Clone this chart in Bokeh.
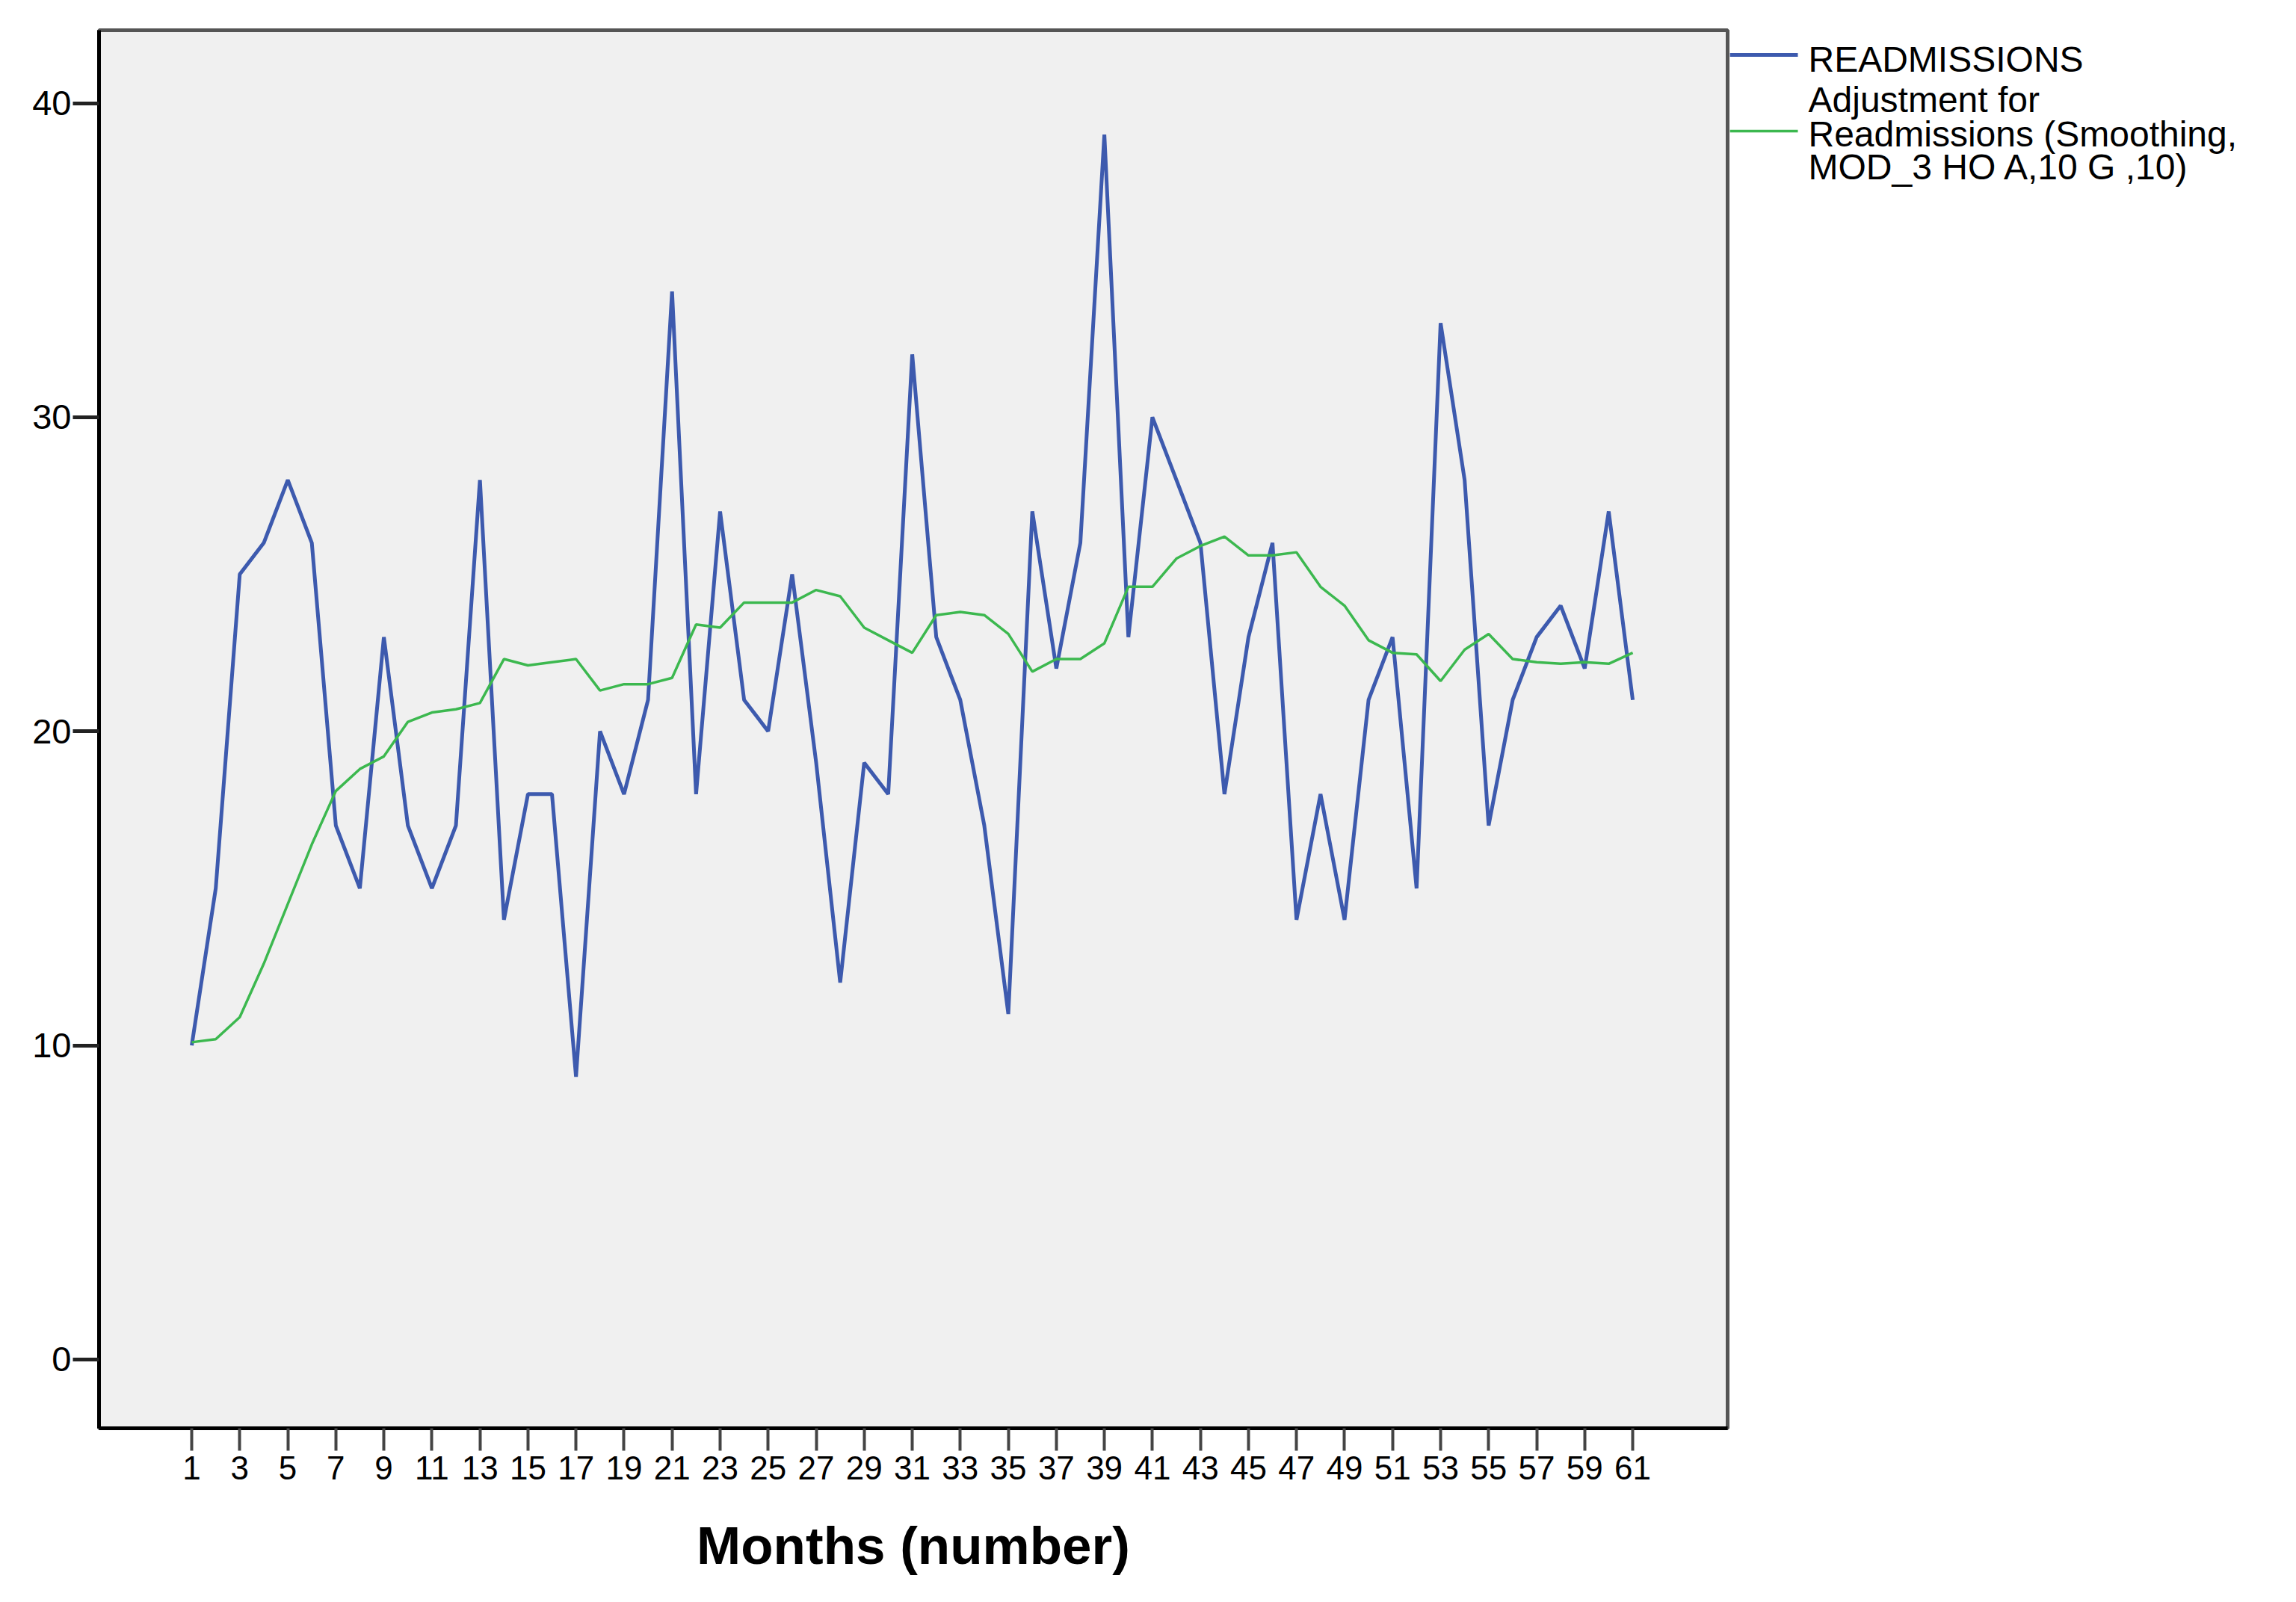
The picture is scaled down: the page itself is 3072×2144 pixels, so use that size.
from bokeh.plotting import figure
from bokeh.layouts import row
from bokeh.models import Range1d, FixedTicker
from bokeh.core.properties import value
from bokeh.embed import file_html
from bokeh.resources import INLINE

# ---- data ----
months = list(range(1, 62))
readmissions = [10, 15, 25, 26, 28, 26, 17, 15, 23, 17, 15, 17, 28, 14, 18, 18, 9, 20, 18, 21,
                34, 18, 27, 21, 20, 25, 19, 12, 19, 18, 32, 23, 21, 17, 11, 27, 22, 26, 39, 23,
                30, 28, 26, 18, 23, 26, 14, 18, 14, 21, 23, 15, 33, 28, 17, 21, 23, 24, 22, 27, 21]
smoothed = [10.1, 10.2, 10.9, 12.6, 14.5, 16.4, 18.1, 18.8, 19.2, 20.3, 20.6, 20.7, 20.9, 22.3,
            22.1, 22.2, 22.3, 21.3, 21.5, 21.5, 21.7, 23.4, 23.3, 24.1, 24.1, 24.1, 24.5, 24.3,
            23.3, 22.9, 22.5, 23.7, 23.8, 23.7, 23.1, 21.9, 22.3, 22.3, 22.8, 24.6, 24.6, 25.5,
            25.9, 26.2, 25.6, 25.6, 25.7, 24.6, 24.0, 22.9, 22.5, 22.45, 21.6, 22.6, 23.1, 22.3,
            22.2, 22.15, 22.2, 22.15, 22.5]
x_ticks = list(range(1, 62, 2))
y_ticks = [0, 10, 20, 30, 40]
legend_lines = ["READMISSIONS", "Adjustment for", "Readmissions (Smoothing,", "MOD_3 HO A,10 G ,10)"]
x_title = "Months (number)"

BLUE = "#3D5AAE"
GREEN = "#3CB84F"
FONT = "Liberation Sans"

# ---- layout (pixels) ----
W, H = 3056, 2128
F_L, F_R, F_T, F_B = 132, 2311, 40, 1911
PAD_R = 3
W1 = F_R + PAD_R
W2 = W - W1
X0, X1 = -2.86, 64.95
Y0, Y1 = -2.19, 42.32

p = figure(width=W1, height=H, output_backend="svg", toolbar_location=None,
           x_range=Range1d(X0, X1), y_range=Range1d(Y0, Y1),
           min_border_left=F_L, min_border_right=PAD_R,
           min_border_top=F_T, min_border_bottom=H - F_B)
p.background_fill_color = "#F0F0F0"
p.border_fill_color = "white"
p.outline_line_color = "#555555"
p.outline_line_width = 5
p.xgrid.visible = False
p.ygrid.visible = False

p.line(months, readmissions, line_color=BLUE, line_width=5)
p.line(months, smoothed, line_color=GREEN, line_width=3.5)

# y axis
p.yaxis.ticker = FixedTicker(ticks=y_ticks)
p.yaxis.axis_line_color = "black"
p.yaxis.axis_line_width = 5
p.yaxis.major_tick_line_color = "#222222"
p.yaxis.major_tick_line_width = 5
p.yaxis.major_tick_out = 35
p.yaxis.major_tick_in = 0
p.yaxis.minor_tick_line_color = None
p.yaxis.major_label_standoff = 2
p.yaxis.major_label_text_font = FONT
p.yaxis.major_label_text_font_size = "47px"
p.yaxis.major_label_text_color = "black"

# x axis
p.xaxis.ticker = FixedTicker(ticks=x_ticks)
p.xaxis.axis_line_color = "black"
p.xaxis.axis_line_width = 5
p.xaxis.major_tick_line_color = "#444444"
p.xaxis.major_tick_line_width = 4
p.xaxis.major_tick_out = 30
p.xaxis.major_tick_in = 0
p.xaxis.minor_tick_line_color = None
p.xaxis.major_label_standoff = 7
p.xaxis.major_label_text_font = FONT
p.xaxis.major_label_text_font_size = "44px"
p.xaxis.major_label_text_color = "black"
p.xaxis.axis_label = x_title
p.xaxis.axis_label_text_font = FONT
p.xaxis.axis_label_text_font_style = "bold"
p.xaxis.axis_label_text_font_size = "71px"
p.xaxis.axis_label_text_color = "black"
p.xaxis.axis_label_standoff = 46

# ---- legend panel: a second figure whose frame spans the same rows as the plot;
#      its coordinates are page pixels (y downwards) ----
lg = figure(width=W2, height=H, output_backend="svg", toolbar_location=None,
            x_range=Range1d(0, W2), y_range=Range1d(F_B, F_T),
            x_axis_location=None, y_axis_location=None,
            min_border_left=0, min_border_right=0,
            min_border_top=F_T, min_border_bottom=H - F_B)
lg.outline_line_color = None
lg.background_fill_color = "white"
lg.border_fill_color = "white"
lg.xgrid.visible = False
lg.ygrid.visible = False

sample_x0, sample_x1 = 0, 2405 - W1
lg.segment(x0=[sample_x0, sample_x0], y0=[73, 175], x1=[sample_x1, sample_x1], y1=[73, 175],
           line_color=[BLUE, GREEN], line_width=[5, 3.5])
lg.text(x=[2419 - W1] * 4, y=[79, 133, 179, 223], text=legend_lines,
        text_font=value(FONT), text_font_size="48px", text_color="black",
        text_align="left", text_baseline="alphabetic")

layout = row(p, lg)
open("out.html", "w").write(file_html(layout, INLINE))
